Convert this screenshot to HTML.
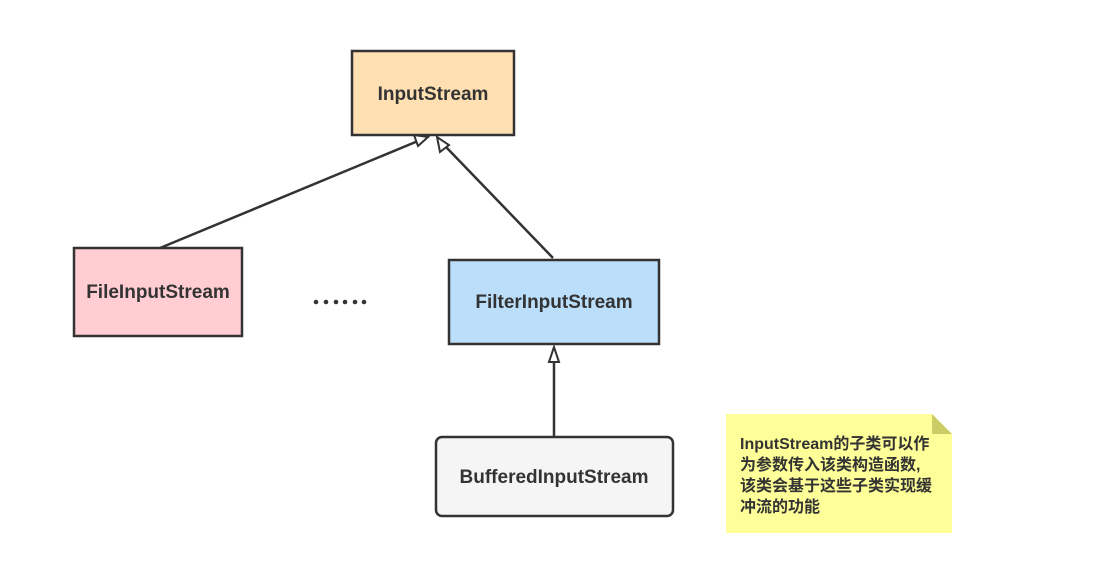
<!DOCTYPE html>
<html><head><meta charset="utf-8"><style>
body{margin:0;background:#fff;width:1105px;height:561px;overflow:hidden;font-family:"Liberation Sans","Noto Sans CJK SC",sans-serif}
</style></head><body>
<svg width="1105" height="561" xmlns="http://www.w3.org/2000/svg" style="position:absolute;left:0;top:0">
<g stroke="#333" stroke-width="2.5" fill="none">
<line x1="160" y1="248" x2="418" y2="141"/>
<line x1="553" y1="258" x2="446" y2="147"/>
<line x1="554" y1="437" x2="554" y2="360"/>
</g>
<g stroke="#333" stroke-width="2" fill="#fff">
<polygon points="428,137 414,135 418,146"/>
<polygon points="437,137 440,152 449,145"/>
<polygon points="554,347 549,362 559,362"/>
</g>
<rect x="352" y="51" width="162" height="84" fill="#ffe0b2" stroke="#333" stroke-width="2.5"/>
<rect x="74" y="248" width="168" height="88" fill="#ffcdd2" stroke="#333" stroke-width="2.5"/>
<rect x="449" y="260" width="210" height="84" fill="#bbdefb" stroke="#333" stroke-width="2.5"/>
<rect x="436" y="437" width="237" height="79" rx="6" fill="#f5f5f5" stroke="#333" stroke-width="2.5"/>
<polygon points="726,414 932,414 952,434 952,533 726,533" fill="#ffff99"/>
<polygon points="932,414 952,434 932,434" fill="#cccc66"/>
<g fill="#333">
<circle cx="316" cy="302" r="2.3"/><circle cx="326" cy="302" r="2.3"/><circle cx="336" cy="302" r="2.3"/>
<circle cx="345" cy="302" r="2.3"/><circle cx="355" cy="302" r="2.3"/><circle cx="364" cy="302" r="2.3"/>
</g>
<g font-weight="bold" font-size="19" fill="#333" text-anchor="middle">
<text x="433" y="100">InputStream</text>
<text x="158" y="298">FileInputStream</text>
<text x="554" y="308">FilterInputStream</text>
<text x="554" y="483">BufferedInputStream</text>
</g>
<g font-weight="bold" font-size="16" fill="#333">
<text x="740" y="449">InputStream的子类可以作</text>
<text x="740" y="470">为参数传入该类构造函数,</text>
<text x="740" y="491">该类会基于这些子类实现缓</text>
<text x="740" y="512">冲流的功能</text>
</g>
</svg>
</body></html>
